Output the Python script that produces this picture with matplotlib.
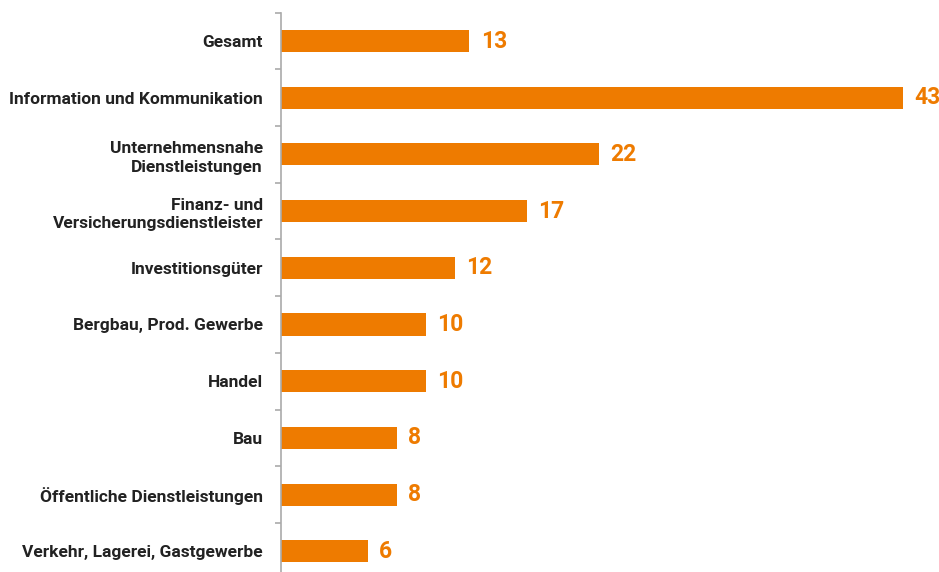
import matplotlib.pyplot as plt
import numpy as np

categories = ['Gesamt', 'Information und Kommunikation', 'Unternehmensnahe\nDienstleistungen',
              'Finanz- und\nVersicherungsdienstleister', 'Investitionsgüter',
              'Bergbau, Prod. Gewerbe', 'Handel', 'Bau', 'Öffentliche Dienstleistungen',
              'Verkehr, Lagerei, Gastgewerbe']
values = [13, 43, 22, 17, 12, 10, 10, 8, 8, 6]

orange = '#EE7B00'
plt.rcParams['font.family'] = ['Roboto', 'DejaVu Sans']

fig = plt.figure(figsize=(9.39, 5.72), dpi=100)
ax = fig.add_axes([281 / 939, (572 - 579.6) / 572, (939 - 281) / 939, (579.6 - 12.7) / 572])

y = np.arange(len(categories))
ax.barh(y, values, height=0.39, color=orange)
ax.set_ylim(len(categories) - 0.5, -0.5)
ax.set_xlim(0, 45.5)

for yi, v in zip(y, values):
    ax.text(v + 0.8, yi, str(v), va='center', ha='left', color=orange,
            fontsize=16.5, fontweight='bold')

ax.set_yticks(y)
ax.set_yticklabels(categories, fontsize=12.5, fontweight='bold', color='#222222',
                   linespacing=1.3)
ax.tick_params(axis='y', which='major', length=0, pad=13)
ax.set_yticks(np.arange(-0.5, len(categories)), minor=True)
ax.tick_params(axis='y', which='minor', length=4, color='#aaaaaa', width=1.2)
ax.set_xticks([])
for s in ['top', 'right', 'bottom']:
    ax.spines[s].set_visible(False)
ax.spines['left'].set_color('#aaaaaa')
ax.spines['left'].set_linewidth(1.2)

fig.savefig('out.png', dpi=100)
